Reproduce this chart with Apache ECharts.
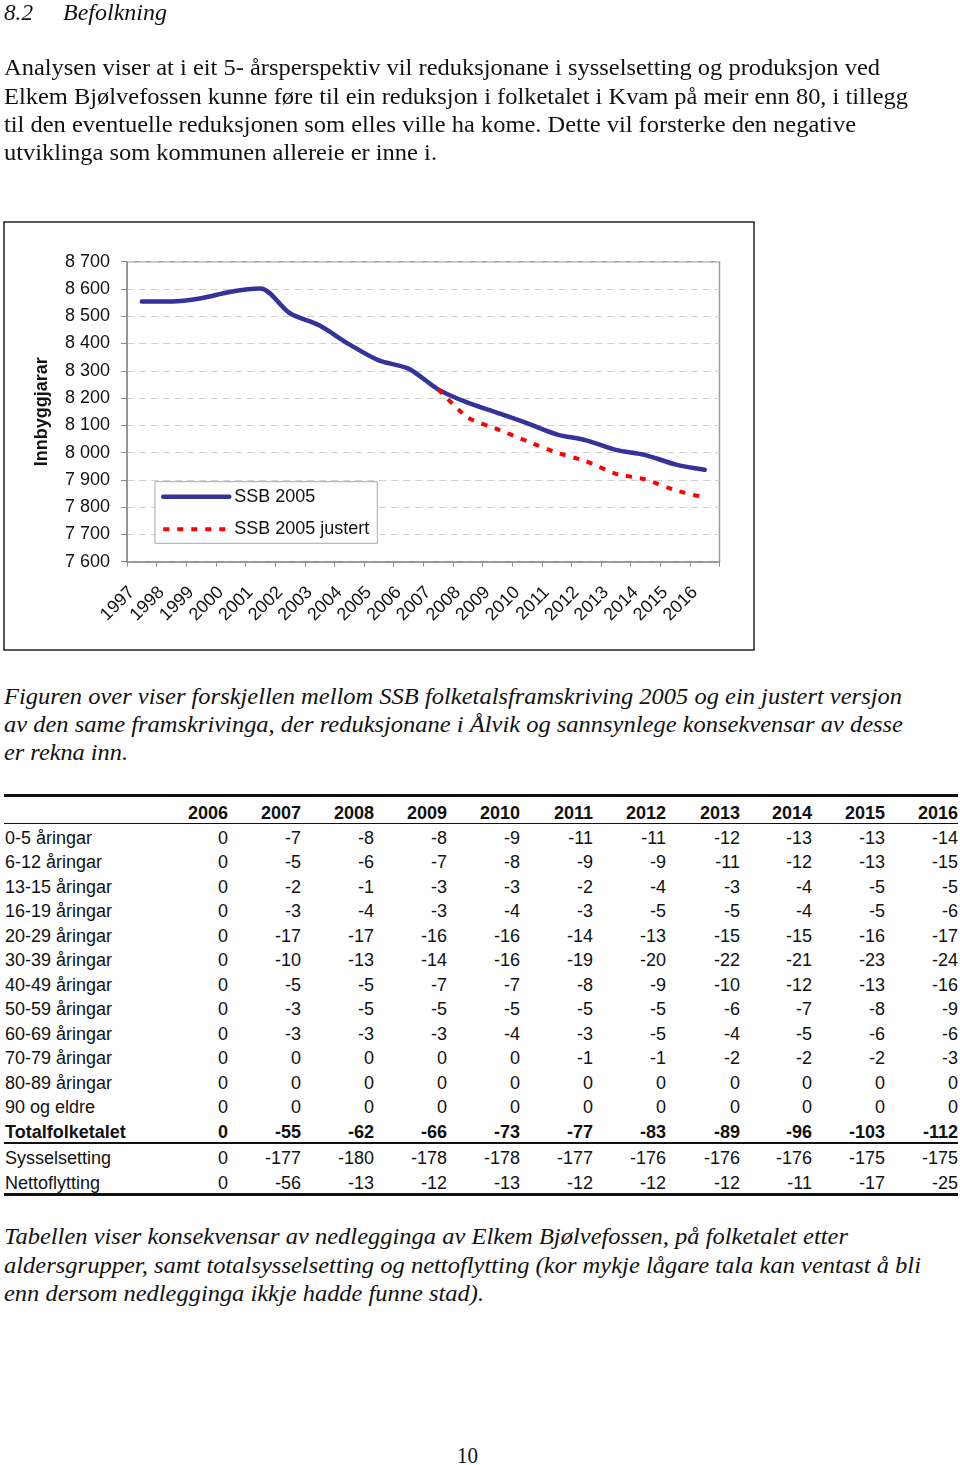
<!DOCTYPE html>
<html>
<head>
<meta charset="utf-8">
<script src="https://cdn.jsdelivr.net/npm/echarts@6/dist/echarts.min.js"></script>
<style>
html,body{margin:0;padding:0;background:#fff;}
body{width:960px;height:1465px;overflow:hidden;position:relative;}
.ln{position:absolute;white-space:nowrap;font-family:'Liberation Serif','Times New Roman',serif;font-size:24px;line-height:28px;color:#111;transform-origin:0 50%;}
.it{font-style:italic;}
#chart{position:absolute;left:0;top:0;width:960px;height:670px;}
.cell{position:absolute;font-family:'Liberation Sans',Arial,sans-serif;font-size:18px;line-height:20px;color:#111;white-space:nowrap;}
.num{text-align:right;width:70px;}
.b{font-weight:bold;}
.rule{position:absolute;left:4px;width:954px;background:#111;}
</style>
</head>
<body>
<div id="chart"></div>
<script>
// ---------- chart data ----------
const years = ['1997','1998','1999','2000','2001','2002','2003','2004','2005','2006',
               '2007','2008','2009','2010','2011','2012','2013','2014','2015','2016'];
const ssb2005 = [8554, 8554, 8566, 8590, 8602, 8511, 8466, 8397, 8338, 8308,
                 8232, 8183, 8146, 8108, 8067, 8045, 8010, 7991, 7957, 7937];
const ssb2005Justert = [null, null, null, null, null, null, null, null, null, null,
                        8232, 8128, 8086, 8042, 8000, 7968, 7922, 7902, 7862, 7835];
const seriesNames = ['SSB 2005', 'SSB 2005 justert'];
const yAxisName = 'Innbyggjarar';

// ---------- table data ----------
const tableYears = ['2006','2007','2008','2009','2010','2011','2012','2013','2014','2015','2016'];
const rowLabels = ['0-5 åringar','6-12 åringar','13-15 åringar','16-19 åringar','20-29 åringar',
  '30-39 åringar','40-49 åringar','50-59 åringar','60-69 åringar','70-79 åringar','80-89 åringar',
  '90 og eldre','Totalfolketalet','Sysselsetting','Nettoflytting'];
const r0_5   = [0,-7,-8,-8,-9,-11,-11,-12,-13,-13,-14];
const r6_12  = [0,-5,-6,-7,-8,-9,-9,-11,-12,-13,-15];
const r13_15 = [0,-2,-1,-3,-3,-2,-4,-3,-4,-5,-5];
const r16_19 = [0,-3,-4,-3,-4,-3,-5,-5,-4,-5,-6];
const r20_29 = [0,-17,-17,-16,-16,-14,-13,-15,-15,-16,-17];
const r30_39 = [0,-10,-13,-14,-16,-19,-20,-22,-21,-23,-24];
const r40_49 = [0,-5,-5,-7,-7,-8,-9,-10,-12,-13,-16];
const r50_59 = [0,-3,-5,-5,-5,-5,-5,-6,-7,-8,-9];
const r60_69 = [0,-3,-3,-3,-4,-3,-5,-4,-5,-6,-6];
const r70_79 = [0,0,0,0,0,-1,-1,-2,-2,-2,-3];
const r80_89 = [0,0,0,0,0,0,0,0,0,0,0];
const r90    = [0,0,0,0,0,0,0,0,0,0,0];
const rTotal = [0,-55,-62,-66,-73,-77,-83,-89,-96,-103,-112];
const rSyssel = [0,-177,-180,-178,-178,-177,-176,-176,-176,-175,-175];
const rNetto  = [0,-56,-13,-12,-13,-12,-12,-12,-11,-17,-25];

// ---------- text ----------
const heading = ['8.2', 'Befolkning'];
const para1 = [
  'Analysen viser at i eit 5- årsperspektiv vil reduksjonane i sysselsetting og produksjon ved',
  'Elkem Bjølvefossen kunne føre til ein reduksjon i folketalet i Kvam på meir enn 80, i tillegg',
  'til den eventuelle reduksjonen som elles ville ha kome. Dette vil forsterke den negative',
  'utviklinga som kommunen allereie er inne i.'
];
const caption1 = [
  'Figuren over viser forskjellen mellom SSB folketalsframskriving 2005 og ein justert versjon',
  'av den same framskrivinga, der reduksjonane i Ålvik og sannsynlege konsekvensar av desse',
  'er rekna inn.'
];
const caption2 = [
  'Tabellen viser konsekvensar av nedlegginga av Elkem Bjølvefossen, på folketalet etter',
  'aldersgrupper, samt totalsysselsetting og nettoflytting (kor mykje lågare tala kan ventast å bli',
  'enn dersom nedlegginga ikkje hadde funne stad).'
];
const pageNumber = '10';

// ---------- text layout ----------
function addLine(text, left, centerY, rightX, italic) {
  const d = document.createElement('div');
  d.className = 'ln' + (italic ? ' it' : '');
  d.textContent = text;
  d.style.left = left + 'px';
  d.style.top = (centerY - 14) + 'px';
  document.body.appendChild(d);
  const w = d.getBoundingClientRect().width;
  if (rightX && w > 0) d.style.transform = 'scaleX(' + ((rightX - left) / w) + ')';
  return d;
}
addLine(heading[0], 4, 12, 33, true);
addLine(heading[1], 63, 12, 167, true);
const p1Y = [67, 96, 124, 152], p1R = [880, 908, 856, 437];
para1.forEach((t, i) => addLine(t, 4, p1Y[i], p1R[i], false));
const c1Y = [696, 724, 752], c1R = [902, 903, 128];
caption1.forEach((t, i) => addLine(t, 4, c1Y[i], c1R[i], true));
const c2Y = [1236, 1265, 1293], c2R = [848, 921, 484];
caption2.forEach((t, i) => addLine(t, 4, c2Y[i], c2R[i], true));
addLine(pageNumber, 457, 1455, 478, false);

// ---------- table layout ----------
const rows = [r0_5, r6_12, r13_15, r16_19, r20_29, r30_39, r40_49, r50_59, r60_69, r70_79, r80_89, r90, rTotal, rSyssel, rNetto];
const colRight = [228, 301, 374, 447, 520, 593, 666, 740, 812, 885, 958];
const rowCenter = [];
for (let i = 0; i < 13; i++) rowCenter.push(838 + 24.47 * i);
rowCenter.push(1157.7, 1183);
function cell(text, x, cy, cls, right) {
  const d = document.createElement('div');
  d.className = 'cell ' + cls;
  d.textContent = text;
  d.style.top = (cy - 10) + 'px';
  if (right) d.style.left = (x - 70) + 'px'; else d.style.left = x + 'px';
  document.body.appendChild(d);
}
tableYears.forEach((y, j) => cell(y, colRight[j], 812.7, 'num b', true));
rows.forEach((vals, i) => {
  const bold = i === 12 ? ' b' : '';
  cell(rowLabels[i], 5, rowCenter[i], bold, false);
  vals.forEach((v, j) => cell(String(v), colRight[j], rowCenter[i], 'num' + bold, true));
});
function rule(top, h) {
  const d = document.createElement('div');
  d.className = 'rule';
  d.style.top = top + 'px';
  d.style.height = h + 'px';
  document.body.appendChild(d);
}
rule(794, 3); rule(822.5, 1.5); rule(1142, 1.5); rule(1193, 3);

// ---------- chart ----------
const chart = echarts.init(document.getElementById('chart'), null, {renderer: 'canvas'});
const fmt = v => String(v).replace(/\B(?=(\d{3})+(?!\d))/g, ' ');
chart.setOption({
  animation: false,
  textStyle: {fontFamily: "'Liberation Sans', Arial, sans-serif"},
  graphic: [{
    type: 'rect', silent: true, z: -10,
    shape: {x: 4, y: 222, width: 750, height: 428},
    style: {fill: 'none', stroke: '#222', lineWidth: 1.5}
  }],
  grid: {left: 127, top: 261.7, width: 592.5, height: 300, show: true, borderColor: '#9a9a9a', borderWidth: 1.5},
  legend: {
    orient: 'vertical', left: 155, top: 481.7, padding: [6, 8, 5, 6], itemGap: 14.6,
    itemWidth: 66, itemHeight: 14, borderColor: '#a8a8a8', borderWidth: 1, backgroundColor: '#fff',
    itemStyle: {opacity: 0},
    lineStyle: {width: 'inherit', type: 'inherit'},
    textStyle: {fontSize: 18, color: '#111'}, data: seriesNames
  },
  xAxis: {
    type: 'category', data: years, boundaryGap: true,
    axisLine: {lineStyle: {color: '#8c8c8c', width: 1.5}},
    axisTick: {show: true, length: 5, interval: 0, lineStyle: {color: '#8c8c8c'}},
    axisLabel: {rotate: 45, margin: 18, padding: [0, 14, 0, 0], fontSize: 18, color: '#111', interval: 0},
    splitLine: {show: false}
  },
  yAxis: {
    type: 'value', min: 7600, max: 8700, interval: 100,
    name: yAxisName, nameLocation: 'middle', nameRotate: 90, nameGap: 76,
    nameTextStyle: {fontSize: 18, fontWeight: 'bold', color: '#111'},
    axisLine: {show: true, lineStyle: {color: '#8c8c8c', width: 1.5}},
    axisTick: {show: true, length: 6, lineStyle: {color: '#8c8c8c'}},
    axisLabel: {margin: 17, fontSize: 18, color: '#111', formatter: fmt},
    splitLine: {show: true, lineStyle: {color: '#cfcfcf', width: 1, type: [7, 5]}}
  },
  series: [
    {name: seriesNames[0], type: 'line', data: ssb2005, smooth: 0.3, symbol: 'none', z: 2,
     lineStyle: {color: '#333399', width: 4.5, cap: 'round'}, itemStyle: {color: '#333399'}},
    {name: seriesNames[1], type: 'line', data: ssb2005Justert, smooth: 0.15, symbol: 'none', z: 3,
     lineStyle: {color: '#ff0000', width: 4, type: [6, 8]}, itemStyle: {color: '#ff0000'}}
  ]
});
</script>
</body>
</html>
